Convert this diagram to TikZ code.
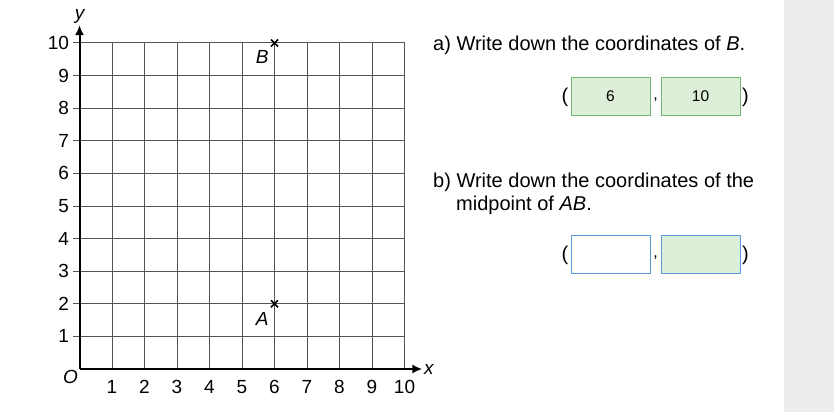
\documentclass[tikz,border=0pt]{standalone}
\usepackage{fontspec}
\setmainfont{Liberation Sans}
\usetikzlibrary{arrows.meta}
\definecolor{boxgreen}{HTML}{DDEFD8}
\definecolor{edgegreen}{HTML}{72B872}
\definecolor{edgeblue}{HTML}{5A9AD6}
\definecolor{panelgrey}{HTML}{EDEDED}
\definecolor{gridgrey}{HTML}{555555}
\tikzset{
  gridline/.style={draw=gridgrey, line width=1pt},
  axisline/.style={draw=black, line width=2pt, -{Latex[length=10pt,width=9pt]}},
  numlab/.style={font=\fontsize{19}{22}\selectfont, inner sep=0pt},
  ptlab/.style={font=\fontsize{19}{22}\selectfont\itshape, inner sep=0pt},
  qtext/.style={font=\fontsize{20}{24}\selectfont, inner sep=0pt, anchor=base west},
  ansgreen/.style={draw=edgegreen, fill=boxgreen, line width=0.9pt, minimum width=79pt, minimum height=37.5pt, inner sep=0pt, font=\fontsize{15.5}{18}\selectfont},
  ansempty/.style={draw=edgeblue, fill=white, line width=0.9pt, minimum width=79pt, minimum height=38pt, inner sep=0pt},
  ansbluegreen/.style={draw=edgeblue, fill=boxgreen, line width=0.9pt, minimum width=79pt, minimum height=38pt, inner sep=0pt},
  paren/.style={font=\fontsize{20}{24}\selectfont, inner sep=0pt},
  crossmark/.style={line width=1.5pt}
}
\begin{document}
\begin{tikzpicture}[x=1pt,y=-1pt]
\useasboundingbox (0,0) rectangle (834,412);
\fill[white] (0,0) rectangle (834,412);
\fill[panelgrey] (784,0) rectangle (834,412);

\begin{scope}[shift={(79.5,369)}, x=32.5pt, y=32.6pt]
  % grid
  \foreach \i in {1,...,10} {
    \draw[gridline] (\i,0) -- (\i,10);
    \draw[gridline] (-0.2,\i) -- (10,\i);
  }
  \coordinate (O) at (0,0);
  \coordinate (xend) at (10.55,0);
  \coordinate (yend) at (0,10.55);
  \draw[axisline] (O) -- (xend);
  \draw[axisline] (O) -- (yend);
  \node[ptlab, anchor=west] (xlab) at (10.6,0) {x};
  \node[ptlab, anchor=south] (ylab) at (0,10.6) {y};
  \node[ptlab] (olab) at (-0.28,-0.25) {O};
  \foreach \i in {1,...,10} {
    \node[numlab, anchor=north] (xn\i) at (\i,-0.35) {\i};
    \node[numlab, anchor=east] (yn\i) at (-0.32,\i) {\i};
  }
  % points
  \coordinate (A) at (6,2);
  \coordinate (B) at (6,10);
  \foreach \p in {A,B} {
    \draw[crossmark] ([shift={(-3.5pt,-3.5pt)}]\p) -- ([shift={(3.5pt,3.5pt)}]\p);
    \draw[crossmark] ([shift={(-3.5pt,3.5pt)}]\p) -- ([shift={(3.5pt,-3.5pt)}]\p);
  }
  \node[ptlab] (Alab) at (5.62,1.55) {A};
  \node[ptlab] (Blab) at (5.62,9.58) {B};
\end{scope}

% question a
\node[qtext] (qa) at (433,50) {a) Write down the coordinates of \textit{B}.};
\node[ansgreen] (a1) at (610.5,96.3) {6};
\node[ansgreen] (a2) at (700.5,96.3) {10};
\node[paren] (ao) at (565,97) {(};
\node[paren] (ac) at (745.5,97) {)};
\node[paren, font=\fontsize{16}{18}\selectfont] (acomma) at (655.5,100) {,};

% question b
\node[qtext] (qb1) at (433,187.5) {b) Write down the coordinates of the};
\node[qtext] (qb2) at (456,210) {midpoint of \textit{AB}.};
\node[ansempty] (b1) at (610.5,254.5) {};
\node[ansbluegreen] (b2) at (700.5,254.5) {};
\node[paren] (bo) at (565,255) {(};
\node[paren] (bc) at (745.5,255) {)};
\node[paren, font=\fontsize{16}{18}\selectfont] (bcomma) at (655.5,258) {,};
\end{tikzpicture}
\end{document}
